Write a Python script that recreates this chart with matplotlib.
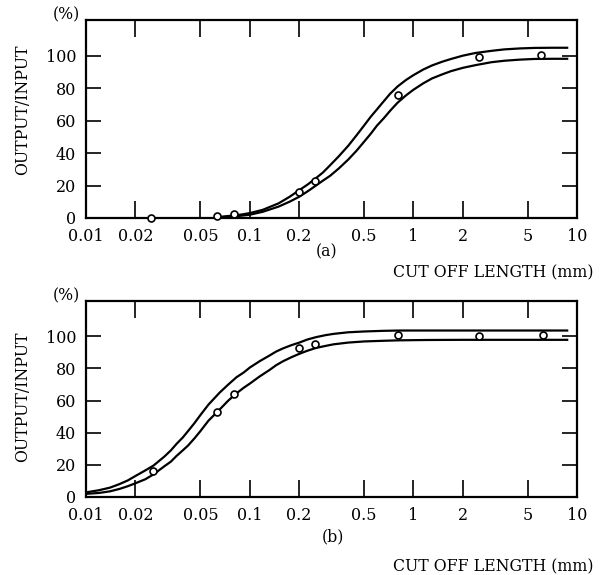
import matplotlib
matplotlib.use("Agg")
import matplotlib.pyplot as plt

plt.rcParams['font.family'] = ['DejaVu Serif']

# measured points, panel (a)
a_x = [0.025, 0.063, 0.08, 0.2, 0.25, 0.8, 2.5, 6.0]
a_y = [0, 1.5, 2.5, 16, 23, 75.5, 99, 100.5]

# band curves, panel (a)
a_up_x = [0.065, 0.07, 0.08, 0.09, 0.1, 0.12, 0.15, 0.175, 0.2, 0.225, 0.25,
          0.28, 0.31, 0.35, 0.4, 0.45, 0.5, 0.55, 0.6, 0.66, 0.72, 0.8, 0.9,
          1.0, 1.15, 1.3, 1.5, 1.7, 2.0, 2.4, 3.0, 3.6, 4.5, 5.5, 7.0, 8.7]
a_up_y = [0.5, 1, 1.5, 2.2, 3, 5, 9, 13, 17, 20.5, 24,
          28, 32.5, 38, 44.5, 51, 57, 62.5, 67, 72, 76.5, 81, 85,
          88, 91.5, 94, 96.3, 98, 100, 101.7, 103, 103.9, 104.5, 104.8, 104.9, 104.9]
a_lo_x = [0.068, 0.075, 0.085, 0.1, 0.12, 0.15, 0.175, 0.2, 0.225, 0.25,
          0.28, 0.31, 0.35, 0.4, 0.45, 0.5, 0.55, 0.6, 0.66, 0.72, 0.8, 0.9,
          1.0, 1.15, 1.3, 1.5, 1.7, 2.0, 2.4, 3.0, 3.6, 4.5, 5.5, 7.0, 8.7]
a_lo_y = [0, 0.5, 1.2, 2, 3.8, 7, 10, 13, 16.3, 19.5,
          23, 26, 30.5, 36, 41.5, 47, 52, 57, 61.5, 66, 71, 75.5,
          79, 83, 86, 88.5, 90.5, 92.5, 94.2, 96, 96.9, 97.6, 98, 98.1, 98.1]

# measured points, panel (b)
b_x = [0.0255, 0.063, 0.08, 0.2, 0.25, 0.8, 2.5, 6.2]
b_y = [16, 53, 64, 93, 95, 100.5, 100, 100.5]

# band curves, panel (b)
b_cx = [0.0102, 0.012, 0.014, 0.016, 0.018, 0.02, 0.023, 0.0258, 0.03, 0.033,
        0.0357, 0.039, 0.042, 0.046, 0.05, 0.056, 0.0656, 0.074, 0.083, 0.092,
        0.1, 0.115, 0.132, 0.145, 0.16, 0.18, 0.2, 0.225, 0.255, 0.29, 0.325,
        0.4, 0.5, 0.65, 0.83, 1.2, 2.0, 8.7]
b_up_y = [3, 4.2, 5.8, 8, 10.3, 13, 16.5, 19.5, 25, 29,
          33, 37, 41, 46, 51, 57.5, 65, 70, 74.5, 77.5,
          80.5, 84.5, 88, 90.5, 92.5, 94.5, 96, 98, 99.5, 100.7, 101.5,
          102.5, 103, 103.4, 103.6, 103.6, 103.6, 103.6]
b_lo_y = [2, 2.5, 3.5, 5, 6.7, 8.5, 11, 14, 19, 22,
          25.5, 29, 32, 36.5, 41, 47.5, 54.5, 60, 64.5, 68,
          70.5, 75, 79, 82, 84.5, 87, 89, 91, 92.8, 94, 95,
          96.1, 96.8, 97.2, 97.5, 97.7, 97.8, 97.8]

x_ticks = [0.01, 0.02, 0.05, 0.1, 0.2, 0.5, 1, 2, 5, 10]
x_labels = ['0.01', '0.02', '0.05', '0.1', '0.2', '0.5', '1', '2', '5', '10']
y_ticks = [0, 20, 40, 60, 80, 100]

fig = plt.figure(figsize=(6.04, 5.75), dpi=100)
ax1 = fig.add_axes([0.1424, 0.6209, 0.813, 0.3443])
ax2 = fig.add_axes([0.1424, 0.1357, 0.813, 0.3409])

panels = [
    (ax1, a_x, a_y, a_up_x, a_up_y, a_lo_x, a_lo_y, '(a)', 0.489, -0.172, -0.278, 0.545),
    (ax2, b_x, b_y, b_cx, b_up_y, b_cx, b_lo_y, '(b)', 0.503, -0.204, -0.357, 0.51),
]

for ax, px, py, ux, uy, lx, ly, tag, tx, ty, cy, ly_pos in panels:
    ax.plot(ux, uy, color='black', lw=1.6)
    ax.plot(lx, ly, color='black', lw=1.6)
    ax.plot(px, py, 'o', mfc='white', mec='black', ms=5, mew=1.2,
            zorder=3, clip_on=False)

    ax.set_xscale('log')
    ax.set_xlim(0.01, 10)
    ax.set_ylim(0, 122)
    ax.set_xticks(x_ticks)
    ax.set_xticklabels(x_labels)
    ax.minorticks_off()
    ax.set_yticks(y_ticks)
    ax.tick_params(axis='x', direction='in', length=12, width=1.2,
                   top=True, pad=7, labelsize=11.5)
    ax.tick_params(axis='y', direction='in', length=11, width=1.2,
                   right=True, pad=7, labelsize=11.5)
    for s in ax.spines.values():
        s.set_linewidth(1.6)

    ax.text(-0.04, 1.025, '(%)', transform=ax.transAxes, ha='center',
            va='center', fontsize=11.3)
    ax.text(-0.13, ly_pos, 'OUTPUT/INPUT', transform=ax.transAxes,
            rotation=90, ha='center', va='center', fontsize=11.3)
    ax.text(tx, ty, tag, transform=ax.transAxes, ha='center', va='center',
            fontsize=11.3)
    ax.text(1.0326, cy, 'CUT OFF LENGTH (mm)', transform=ax.transAxes,
            ha='right', va='center', fontsize=11.3)

plt.savefig('out.png', dpi=100)
